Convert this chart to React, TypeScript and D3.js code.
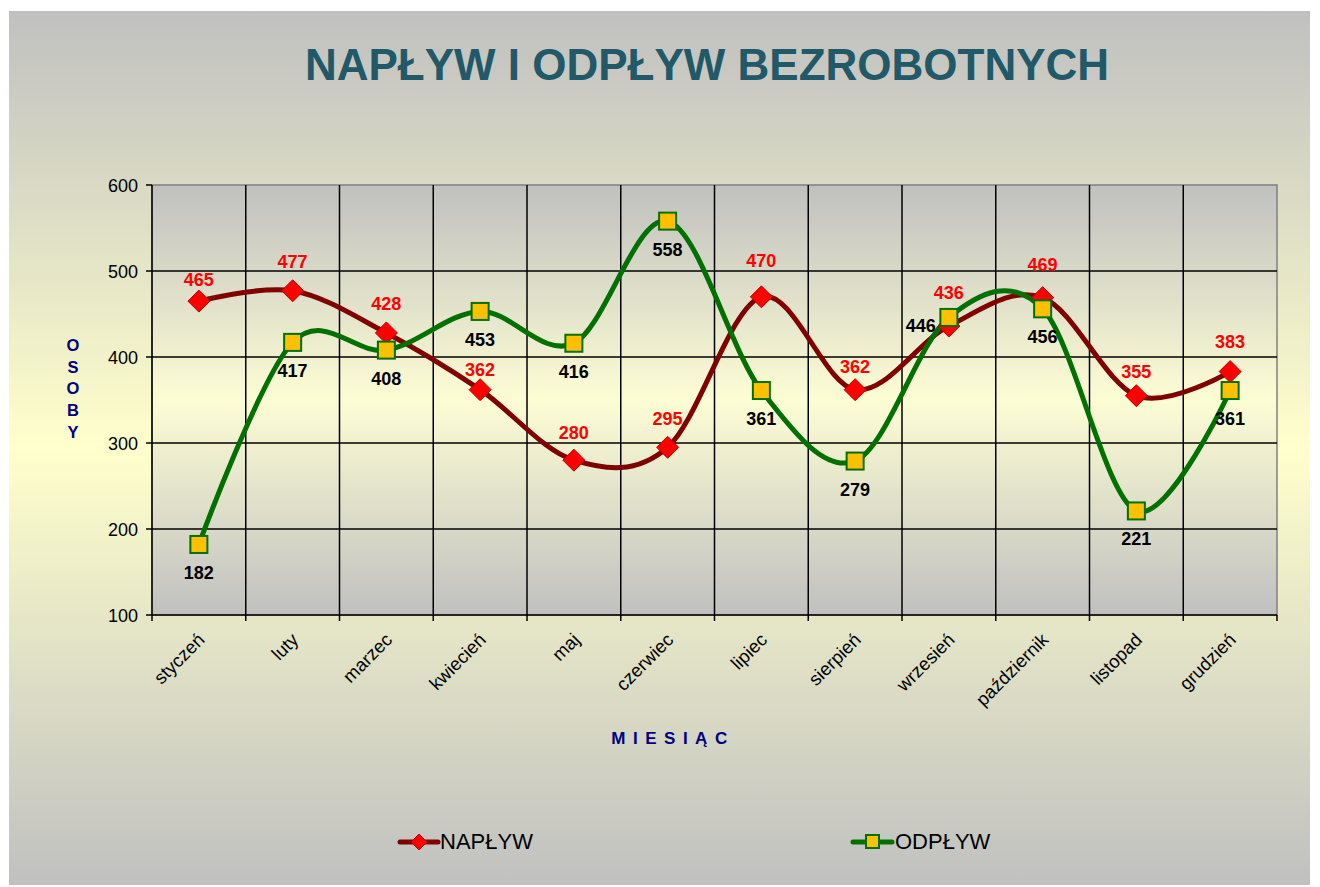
import React from "react";
import * as d3 from "d3";

const months = ["styczeń", "luty", "marzec", "kwiecień", "maj", "czerwiec", "lipiec", "sierpień", "wrzesień", "październik", "listopad", "grudzień"];
const naplyw = [465, 477, 428, 362, 280, 295, 470, 362, 436, 469, 355, 383];
const odplyw = [182, 417, 408, 453, 416, 558, 361, 279, 446, 456, 221, 361];
const yTicks = [100, 200, 300, 400, 500, 600];

// label nudges (px above marker), as placed in the original
const naplywLabelDy = [22, 29, 29, 20, 28, 29, 36, 23, 34, 33, 24, 30];

const W = 1320, H = 887;
const plot = { left: 152, right: 1277, top: 185, bottom: 615 };
const font = "'Liberation Sans', Arial, sans-serif";

export default function App() {
  const x = d3.scaleBand().domain(months).range([plot.left, plot.right]);
  const y = d3.scaleLinear().domain([100, 600]).range([plot.bottom, plot.top]);
  const cx = (m: string) => (x(m) as number) + x.bandwidth() / 2;

  const line = d3
    .line<number>()
    .x((d, i) => cx(months[i]))
    .y((d) => y(d))
    .curve(d3.curveCatmullRom.alpha(0));

  const diamond = (px: number, py: number, r: number) =>
    `M${px},${py - r}L${px + r},${py}L${px},${py + r}L${px - r},${py}Z`;

  return (
    <svg width={W} height={H} style={{ display: "block", position: "absolute", left: 0, top: 0 }}>
      <defs>
        <linearGradient id="bg" x1="0" y1="0" x2="0" y2="1">
          <stop offset="0" stopColor="#c0c0c0" />
          <stop offset="0.5" stopColor="#ffffcc" />
          <stop offset="1" stopColor="#c0c0c0" />
        </linearGradient>
        <linearGradient id="pg" x1="0" y1="0" x2="0" y2="1">
          <stop offset="0" stopColor="#c0c0c0" />
          <stop offset="0.5" stopColor="#fdfdd4" />
          <stop offset="1" stopColor="#c0c0c0" />
        </linearGradient>
      </defs>
      <rect x={0} y={0} width={W} height={H} fill="#fff" />
      <rect x={9} y={11} width={1301} height={874} fill="url(#bg)" />

      <text x={707} y={80} textAnchor="middle" fontFamily={font} fontWeight="bold" fontSize={44} fill="#215968">
        NAPŁYW I ODPŁYW BEZROBOTNYCH
      </text>

      {/* plot area */}
      <rect x={plot.left} y={plot.top} width={plot.right - plot.left} height={plot.bottom - plot.top} fill="url(#pg)" stroke="#808080" strokeWidth={1.5} />

      {yTicks.slice(1, -1).map((t) => (
        <line key={t} x1={plot.left} x2={plot.right} y1={y(t)} y2={y(t)} stroke="#000" strokeWidth={1.5} />
      ))}
      {months.slice(1).map((m) => (
        <line key={m} x1={x(m)} x2={x(m)} y1={plot.top} y2={plot.bottom} stroke="#000" strokeWidth={1.5} />
      ))}

      {/* axes */}
      <line x1={plot.left} x2={plot.left} y1={plot.top} y2={plot.bottom} stroke="#000" strokeWidth={1.5} />
      <line x1={plot.left} x2={plot.right} y1={plot.bottom} y2={plot.bottom} stroke="#000" strokeWidth={1.5} />
      {yTicks.map((t) => (
        <g key={t}>
          <line x1={plot.left - 6} x2={plot.left} y1={y(t)} y2={y(t)} stroke="#000" strokeWidth={1.5} />
          <text x={plot.left - 14} y={y(t) + 6.5} textAnchor="end" fontFamily={font} fontSize={18} fill="#000">
            {t}
          </text>
        </g>
      ))}
      {months.map((m) => (
        <line key={m} x1={x(m)} x2={x(m)} y1={plot.bottom} y2={plot.bottom + 6} stroke="#000" strokeWidth={1.5} />
      ))}
      <line x1={plot.right} x2={plot.right} y1={plot.bottom} y2={plot.bottom + 6} stroke="#000" strokeWidth={1.5} />
      {months.map((m) => (
        <text key={m} transform={`translate(${cx(m) + 7},${plot.bottom + 26}) rotate(-45)`} textAnchor="end" fontFamily={font} fontSize={18.5} fill="#000">
          {m}
        </text>
      ))}

      {/* axis titles */}
      {"OSOBY".split("").map((c, i) => (
        <text key={i} x={73} y={351 + i * 21.7} textAnchor="middle" fontFamily={font} fontWeight="bold" fontSize={16.5} fill="#000080">
          {c}
        </text>
      ))}
      <text x={673} y={744} textAnchor="middle" fontFamily={font} fontWeight="bold" fontSize={17} letterSpacing={7.5} fill="#000080">
        MIESIĄC
      </text>

      {/* series */}
      <path d={line(naplyw) || ""} fill="none" stroke="#800000" strokeWidth={5} strokeLinejoin="round" />
      <path d={line(odplyw) || ""} fill="none" stroke="#007000" strokeWidth={5} strokeLinejoin="round" />

      {naplyw.map((v, i) => (
        <path key={i} d={diamond(cx(months[i]), y(v), 11)} fill="#ff0000" stroke="#c00000" strokeWidth={1} />
      ))}
      {odplyw.map((v, i) => (
        <rect key={i} x={cx(months[i]) - 8.5} y={y(v) - 8.5} width={17} height={17} fill="#ffc000" stroke="#007000" strokeWidth={2} />
      ))}

      {naplyw.map((v, i) => (
        <text key={i} x={cx(months[i])} y={y(v) - naplywLabelDy[i] + 6.5} textAnchor="middle" fontFamily={font} fontWeight="bold" fontSize={18} fill="#ff0000">
          {v}
        </text>
      ))}
      {odplyw.map((v, i) =>
        i === 8 ? (
          <text key={i} x={cx(months[i]) - 13} y={y(v) + 15} textAnchor="end" fontFamily={font} fontWeight="bold" fontSize={18} fill="#000">
            {v}
          </text>
        ) : (
          <text key={i} x={cx(months[i])} y={y(v) + 34.5} textAnchor="middle" fontFamily={font} fontWeight="bold" fontSize={18} fill="#000">
            {v}
          </text>
        )
      )}

      {/* legend */}
      <line x1={400} x2={438} y1={842} y2={842} stroke="#800000" strokeWidth={5} strokeLinecap="round" />
      <path d={diamond(419, 842, 8)} fill="#ff0000" stroke="#c00000" strokeWidth={1} />
      <text x={440} y={849} fontFamily={font} fontSize={22} fill="#000">NAPŁYW</text>
      <line x1={853} x2={892} y1={842} y2={842} stroke="#007000" strokeWidth={5} strokeLinecap="round" />
      <rect x={866} y={835} width={13} height={13} fill="#ffc000" stroke="#007000" strokeWidth={2} />
      <text x={895} y={849} fontFamily={font} fontSize={22} fill="#000">ODPŁYW</text>
    </svg>
  );
}
